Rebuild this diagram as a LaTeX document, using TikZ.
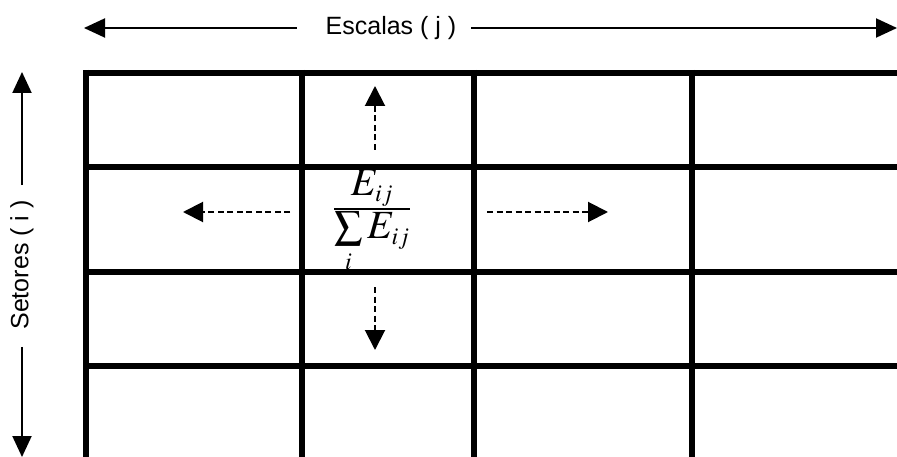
\documentclass[tikz,border=0pt]{standalone}
\usepackage{mathptmx}
\usepackage{fontspec}
\setsansfont{Liberation Sans}
\usetikzlibrary{arrows.meta}

\begin{document}
\begin{tikzpicture}[x=1pt, y=-1pt, every node/.style={font=\sffamily\fontsize{25}{28}\selectfont},
	axisarrow/.style={line width=2pt, -{Triangle[length=21pt,width=19pt]}},
	flowarrow/.style={line width=2pt, dash pattern=on 6pt off 3.5pt, -{Triangle[length=20pt,width=20pt]}}]
	\useasboundingbox (0,0) rectangle (897,457);
	% grid of sectors and scales
	\foreach \y in {73,167,272,366} {\draw[line width=5.5pt] (84,\y) -- (897,\y);}
	\foreach \x in {86,302,474,692} {\draw[line width=5.5pt] (\x,70) -- (\x,457);}
	% scales axis
	\node[inner sep=0pt] (escalas) at (391,28) {Escalas ( j )};
	\coordinate (escW) at (84,28);
	\coordinate (escE) at (897,28);
	\draw[axisarrow] ([xshift=-29pt]escalas.west) -- (escW);
	\draw[axisarrow] ([xshift=15pt]escalas.east) -- (escE);
	% sectors axis
	\node[inner sep=0pt, rotate=90] (setores) at (22,265) {Setores ( i )};
	\coordinate (setN) at (22,72);
	\coordinate (setS) at (22,457);
	\draw[axisarrow] ([yshift=15pt]setores.east) -- (setN);
	\draw[axisarrow] ([yshift=-17pt]setores.west) -- (setS);
	% share of each sector
	\node[font=\fontsize{40}{42}\selectfont, inner sep=0pt] (ratio) at (372,222)
		{$\frac{\textstyle E_{\scriptscriptstyle ij}}{\textstyle\sum\limits_{\scriptscriptstyle i} E_{\scriptscriptstyle ij}}$};
	\coordinate (upA) at (375,150);   \coordinate (upB) at (375,86);
	\coordinate (dnA) at (375,287);   \coordinate (dnB) at (375,350);
	\coordinate (ltA) at (290,212);   \coordinate (ltB) at (183,212);
	\coordinate (rtA) at (487,212);   \coordinate (rtB) at (608,212);
	\draw[flowarrow] (upA) -- (upB);
	\draw[flowarrow] (dnA) -- (dnB);
	\draw[flowarrow] (ltA) -- (ltB);
	\draw[flowarrow] (rtA) -- (rtB);
\end{tikzpicture}
\end{document}
